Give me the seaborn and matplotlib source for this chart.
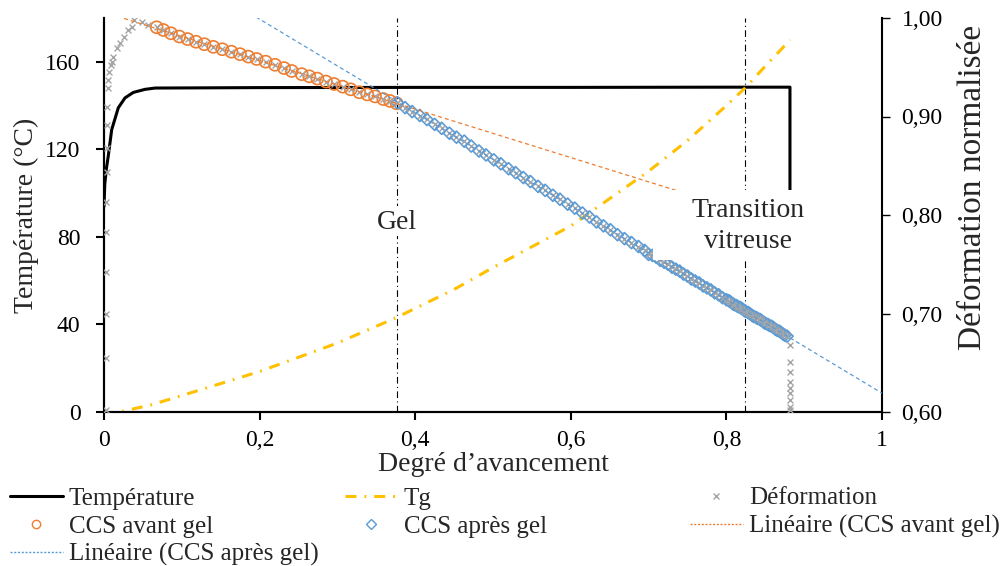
import numpy as np
import pandas as pd
import matplotlib
matplotlib.use("Agg")
import matplotlib.pyplot as plt
import seaborn as sns
from matplotlib.lines import Line2D
from matplotlib.patches import Rectangle
from matplotlib.ticker import FixedLocator, FixedFormatter

# ---------------- data ----------------
# Temperature (left axis)
temp_x = [0.000, 0.001, 0.003, 0.0055, 0.0099, 0.0184, 0.027, 0.0377, 0.0527, 0.0656,
          0.2, 0.4, 0.6, 0.8, 0.8817, 0.8817]
temp_y = [94, 104, 111, 117, 129, 139, 143.5, 146, 147.4, 148, 148.2, 148.3, 148.3,
          148.4, 148.4, 100]

# Tg (left axis)
tg_x = [0.0, 0.02, 0.06, 0.1, 0.15, 0.2, 0.25, 0.3, 0.375, 0.45, 0.5, 0.6, 0.7, 0.75,
        0.8, 0.824, 0.85, 0.882]
tg_y = [-2, 0, 3.2, 7.5, 13, 18.5, 25, 31.5, 43, 56, 66, 85, 110, 124, 140, 148, 158, 170]

# Deformation (right axis): start of curve, end drop
def_start_x = [0.002, 0.002, 0.002, 0.002, 0.002, 0.003, 0.004, 0.004, 0.004, 0.004,
               0.0055, 0.0055, 0.0068, 0.009, 0.010, 0.012, 0.017, 0.021, 0.026, 0.031,
               0.036, 0.039, 0.049, 0.057]
def_start_y = [0.602, 0.655, 0.700, 0.742, 0.783, 0.813, 0.844, 0.868, 0.891, 0.910,
               0.929, 0.937, 0.945, 0.952, 0.955, 0.960, 0.970, 0.975, 0.981, 0.988,
               0.991, 0.998, 0.996, 0.993]
def_end_x = [0.8817] * 9
def_end_y = [0.668, 0.651, 0.641, 0.630, 0.624, 0.619, 0.612, 0.605, 0.602]

# CCS before gel (right axis)
ccs_avant_x = [0.0677, 0.0763, 0.0861, 0.0968, 0.1075, 0.1183, 0.1290, 0.1405, 0.1521,
               0.1637, 0.1748, 0.1855, 0.1962, 0.2078, 0.2198, 0.2314, 0.2413, 0.2541,
               0.2639, 0.2742, 0.2853, 0.2956, 0.3068, 0.3171, 0.3281, 0.3384, 0.3483,
               0.3590, 0.3676, 0.3762]
ccs_avant_y = [0.9906, 0.9878, 0.9845, 0.9812, 0.9786, 0.9759, 0.9734, 0.9707, 0.9683,
               0.9658, 0.9633, 0.9608, 0.9584, 0.9557, 0.9525, 0.9492, 0.9462, 0.9430,
               0.9408, 0.9385, 0.9355, 0.9330, 0.9303, 0.9276, 0.9246, 0.9224, 0.9204,
               0.9177, 0.9158, 0.9134]

# CCS after gel (right axis)
ccs_apres_x = [0.377, 0.387, 0.396, 0.406, 0.415, 0.425, 0.434, 0.444, 0.453, 0.463,
               0.472, 0.482, 0.491, 0.501, 0.510, 0.520, 0.529, 0.539, 0.548, 0.558,
               0.567, 0.577, 0.586, 0.596, 0.605, 0.615, 0.624, 0.633, 0.642, 0.651,
               0.660, 0.669, 0.678, 0.687, 0.695,
               0.700, 0.705, 0.710, 0.715, 0.720, 0.725, 0.730, 0.735, 0.740, 0.745,
               0.750, 0.755, 0.760, 0.765, 0.770, 0.775, 0.780, 0.785, 0.790, 0.795,
               0.800,
               0.803, 0.805, 0.808, 0.810, 0.813, 0.815, 0.818, 0.820, 0.823, 0.825,
               0.828, 0.830, 0.833, 0.835, 0.838, 0.840, 0.843, 0.845, 0.848, 0.850,
               0.853, 0.855, 0.858, 0.860, 0.863, 0.865, 0.868, 0.870, 0.873, 0.875,
               0.878]
ccs_apres_y = [0.914, 0.909, 0.905, 0.901, 0.897, 0.892, 0.888, 0.883, 0.879, 0.875,
               0.870, 0.865, 0.861, 0.856, 0.852, 0.847, 0.843, 0.838, 0.834, 0.829,
               0.825, 0.820, 0.816, 0.811, 0.807, 0.802, 0.798, 0.793, 0.789, 0.785,
               0.780, 0.776, 0.772, 0.768, 0.764,
               0.760, 0.759, 0.757, 0.754, 0.752, 0.750, 0.747, 0.745, 0.743, 0.740,
               0.738, 0.735, 0.733, 0.731, 0.728, 0.726, 0.724, 0.721, 0.719, 0.716,
               0.714,
               0.713, 0.712, 0.710, 0.709, 0.708, 0.707, 0.706, 0.705, 0.703, 0.702,
               0.701, 0.700, 0.698, 0.697, 0.696, 0.695, 0.694, 0.693, 0.691, 0.690,
               0.689, 0.688, 0.687, 0.686, 0.684, 0.683, 0.682, 0.681, 0.679, 0.678,
               0.677]

# Trend-line extents (x ranges drawn by the spreadsheet)
trend_avant_range = [0.0, 0.80]
trend_apres_range = [0.0, 1.0]

# Gel point and vitrification (x)
gel_x = 0.377
vitri_x = 0.824

x_ticks = [0, 0.2, 0.4, 0.6, 0.8, 1.0]
x_ticklabels = ["0", "0,2", "0,4", "0,6", "0,8", "1"]
yl_ticks = [0, 40, 80, 120, 160]
yl_ticklabels = ["0", "40", "80", "120", "160"]
yr_ticks = [0.6, 0.7, 0.8, 0.9, 1.0]
yr_ticklabels = ["0,60", "0,70", "0,80", "0,90", "1,00"]

# deformation = start + the CCS points + final drop
def_x = def_start_x + ccs_avant_x + ccs_apres_x + def_end_x
def_y = def_start_y + ccs_avant_y + ccs_apres_y + def_end_y

# ---------------- style ----------------
C_ORANGE = "#ED7D31"
C_BLUE = "#5B9BD5"
C_YELLOW = "#FFC000"
C_GRAY = "#A5A5A5"

sns.set_style("ticks")
plt.rcParams['font.family'] = ['Liberation Serif', 'DejaVu Serif']
plt.rcParams['axes.linewidth'] = 1.5

fig = plt.figure(figsize=(10.06, 5.66), dpi=100)
fig.patch.set_facecolor("white")
ax = fig.add_axes([104 / 1006, 1 - 412 / 566, 778 / 1006, 394 / 566])
ax2 = ax.twinx()

# left axis series
sns.lineplot(x=temp_x, y=temp_y, sort=False, estimator=None, ax=ax,
             color="black", linewidth=2.2, zorder=3)
sns.lineplot(x=tg_x, y=tg_y, sort=False, estimator=None, ax=ax,
             color=C_YELLOW, linewidth=2.2, linestyle=(0, (3.6, 2.6, 0.6, 2.6)), zorder=3)
for xv in (gel_x, vitri_x):
    ax.axvline(xv, color="black", linewidth=0.8, linestyle=(0, (6, 3, 1, 3)), zorder=2)

# right axis series
fit_av = np.polyfit(ccs_avant_x, ccs_avant_y, 1)
fit_ap = np.polyfit(ccs_apres_x, ccs_apres_y, 1)
tr_av_x = np.array(trend_avant_range)
tr_ap_x = np.array(trend_apres_range)

sns.scatterplot(x=ccs_avant_x, y=ccs_avant_y, ax=ax2, marker="o", s=75,
                facecolors="none", edgecolor=C_ORANGE, linewidth=1.2, zorder=3)
sns.scatterplot(x=ccs_apres_x, y=ccs_apres_y, ax=ax2, marker="D", s=38,
                facecolors="none", edgecolor=C_BLUE, linewidth=1.2, zorder=3)
sns.scatterplot(x=def_x, y=def_y, ax=ax2, marker="x", s=18, color=C_GRAY,
                linewidth=1.0, zorder=4)
sns.lineplot(x=tr_av_x, y=np.polyval(fit_av, tr_av_x), ax=ax2, color=C_ORANGE,
             linewidth=0.9, linestyle=(0, (3.2, 2.4)), zorder=5)
sns.lineplot(x=tr_ap_x, y=np.polyval(fit_ap, tr_ap_x), ax=ax2, color=C_BLUE,
             linewidth=0.9, linestyle=(0, (3.2, 2.4)), zorder=5)

# axes
ax.set_xlim(0, 1)
ax.set_ylim(0, 180)
ax2.set_ylim(0.6, 1.0)
ax.xaxis.set_major_locator(FixedLocator(x_ticks))
ax.xaxis.set_major_formatter(FixedFormatter(x_ticklabels))
ax.yaxis.set_major_locator(FixedLocator(yl_ticks))
ax.yaxis.set_major_formatter(FixedFormatter(yl_ticklabels))
ax2.yaxis.set_major_locator(FixedLocator(yr_ticks))
ax2.yaxis.set_major_formatter(FixedFormatter(yr_ticklabels))

for a in (ax, ax2):
    a.spines["top"].set_visible(False)
    for s in a.spines.values():
        s.set_color("black")
        s.set_linewidth(1.5)
ax.spines["right"].set_visible(False)
ax.tick_params(axis="both", direction="out", length=6, width=1.5, labelsize=17,
               colors="black", pad=7)
ax.tick_params(axis="y", pad=11)
ax2.tick_params(axis="y", direction="out", length=6, width=1.0, labelsize=17,
                colors="black", pad=8)

ax.set_xlabel("Degré d’avancement", fontsize=20, labelpad=1)
ax.set_ylabel("Température (°C)", fontsize=20, labelpad=4)
ax2.set_ylabel("Déformation normalisée", fontsize=24)
ax2.yaxis.set_label_coords(1.097, 0.569)

# annotation boxes
ax2.add_patch(Rectangle((0.342, 0.447), 0.071, 0.076, transform=ax2.transAxes,
                        facecolor="white", edgecolor="none", zorder=20))
ax2.text(0.3766, 0.48, "Gel", transform=ax2.transAxes, ha="center", va="center",
         fontsize=20, zorder=21)
ax2.add_patch(Rectangle((0.7057, 0.386), 0.240, 0.177, transform=ax2.transAxes,
                        facecolor="white", edgecolor="none", zorder=20))
ax2.text(0.828, 0.472, "Transition\nvitreuse", transform=ax2.transAxes, ha="center",
         va="center", fontsize=20, zorder=21, linespacing=1.35)

# legend (three columns)
h_temp = Line2D([], [], color="black", linewidth=2.2)
h_tg = Line2D([], [], color=C_YELLOW, linewidth=2.2, linestyle=(0, (3.6, 2.6, 0.6, 2.6)))
h_def = Line2D([], [], color=C_GRAY, marker="x", linestyle="none", markersize=4,
               markeredgewidth=1.0)
h_av = Line2D([], [], color=C_ORANGE, marker="o", linestyle="none", markersize=6,
              markerfacecolor="none", markeredgewidth=1.0)
h_ap = Line2D([], [], color=C_BLUE, marker="D", linestyle="none", markersize=5,
              markerfacecolor="none", markeredgewidth=1.0)
h_tav = Line2D([], [], color=C_ORANGE, linewidth=1.0, linestyle=(0, (1.5, 1.2)))
h_tap = Line2D([], [], color=C_BLUE, linewidth=1.0, linestyle=(0, (1.5, 1.2)))

cols = [
    ([h_temp, h_av, h_tap], ["Température", "CCS avant gel", "Linéaire (CCS après gel)"], 10),
    ([h_tg, h_ap], ["Tg", "CCS après gel"], 345),
    ([h_def, h_tav], ["Déformation", "Linéaire (CCS avant gel)"], 690),
]
for hs, ls, xpx in cols:
    fig.legend(handles=hs, labels=ls, loc="upper left",
               bbox_to_anchor=(xpx / 1006, 1 - 487 / 566), bbox_transform=fig.transFigure,
               frameon=False, fontsize=18, handlelength=2.1, handletextpad=0.25,
               labelspacing=0.22, borderpad=0, borderaxespad=0)

fig.savefig("out.png", dpi=100, facecolor="white")
